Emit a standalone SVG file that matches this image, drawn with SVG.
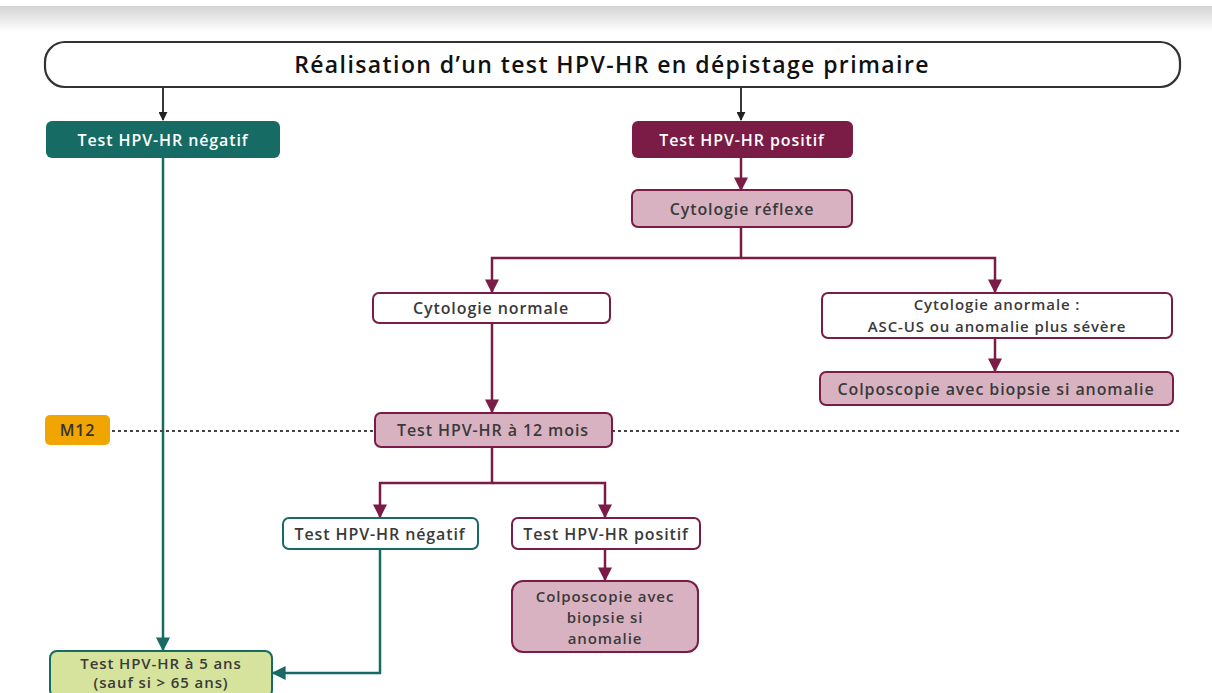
<svg xmlns="http://www.w3.org/2000/svg" width="1212" height="693" viewBox="0 0 1212 693">
<defs>
<linearGradient id="band" x1="0" y1="0" x2="0" y2="1">
<stop offset="0" stop-color="#d4d4d4"/>
<stop offset="1" stop-color="#ffffff"/>
</linearGradient>
<marker id="ab" viewBox="0 0 10 10" refX="9" refY="5" markerWidth="9" markerHeight="9" orient="auto" markerUnits="userSpaceOnUse"><path d="M0,0 L10,5 L0,10 z" fill="#222"/></marker>
<marker id="am" viewBox="0 0 10 10" refX="9" refY="5" markerWidth="14" markerHeight="14" orient="auto" markerUnits="userSpaceOnUse"><path d="M0,0 L10,5 L0,10 z" fill="#7a1c46"/></marker>
<marker id="at" viewBox="0 0 10 10" refX="9" refY="5" markerWidth="14" markerHeight="14" orient="auto" markerUnits="userSpaceOnUse"><path d="M0,0 L10,5 L0,10 z" fill="#166b64"/></marker>
<style>
text{font-family:"Open Sans",Lato,"Liberation Sans",sans-serif;font-weight:600;text-anchor:middle;dominant-baseline:central}
.lbl{font-size:16px;letter-spacing:0.9px;fill:#3a3a3a}
.sm{font-size:15px}
.w{fill:#fff}
.cm{stroke:#7a1c46;stroke-width:2.5;fill:none}
.ct{stroke:#166b64;stroke-width:2.5;fill:none}
.cb{stroke:#222;stroke-width:1.8;fill:none}
.pink{fill:#d9b2c1;stroke:#7a1c46;stroke-width:2}
.wm{fill:#fff;stroke:#7a1c46;stroke-width:2}
.wt{fill:#fff;stroke:#166b64;stroke-width:2}
</style>
</defs>
<rect x="0" y="0" width="1212" height="693" fill="#fff"/>
<rect x="0" y="6" width="1212" height="26" fill="url(#band)"/>

<g id="connectors">
<line class="cb" x1="163" y1="88" x2="163" y2="120" marker-end="url(#ab)"/>
<line class="cb" x1="741" y1="88" x2="741" y2="120" marker-end="url(#ab)"/>
<line class="cm" x1="741" y1="158" x2="741" y2="190" marker-end="url(#am)"/>
<polyline class="cm" points="741,227 741,258 492,258 492,292" marker-end="url(#am)"/>
<polyline class="cm" points="741,258 995,258 995,292" marker-end="url(#am)"/>
<line class="cm" x1="995" y1="338" x2="995" y2="371" marker-end="url(#am)"/>
<line class="cm" x1="492" y1="323" x2="492" y2="412" marker-end="url(#am)"/>
<polyline class="cm" points="492,447 492,483 380,483 380,517" marker-end="url(#am)"/>
<polyline class="cm" points="492,483 605,483 605,517" marker-end="url(#am)"/>
<line class="cm" x1="605" y1="549" x2="605" y2="580" marker-end="url(#am)"/>
<line class="ct" x1="163" y1="158" x2="163" y2="650" marker-end="url(#at)"/>
<polyline class="ct" points="380,549 380,673 273,673" marker-end="url(#at)"/>
<line x1="112" y1="431" x2="375" y2="431" stroke="#444" stroke-width="2" stroke-dasharray="3,3"/>
<line x1="612" y1="431" x2="1182" y2="431" stroke="#444" stroke-width="2" stroke-dasharray="3,3"/>
</g>

<g id="title">
<rect x="45" y="42" width="1135" height="45" rx="20" fill="#fff" stroke="#333" stroke-width="2.2"/>
<text x="612" y="64" style="font-size:23px;letter-spacing:1.4px;fill:#111">Réalisation d’un test HPV-HR en dépistage primaire</text>
</g>

<g id="neg1">
<rect x="46" y="121" width="234" height="37" rx="6" fill="#166b64"/>
<text class="lbl w" x="163" y="139.5">Test HPV-HR négatif</text>
</g>

<g id="pos1">
<rect x="632" y="121" width="221" height="37" rx="6" fill="#7a1c46"/>
<text class="lbl w" x="742" y="139.5">Test HPV-HR positif</text>
</g>

<g id="cytoreflexe">
<rect class="pink" x="632" y="190" width="220" height="37" rx="6"/>
<text class="lbl" x="742" y="208.5">Cytologie réflexe</text>
</g>

<g id="cytonormale">
<rect class="wm" x="373" y="293" width="237" height="30" rx="6"/>
<text class="lbl" x="491" y="308">Cytologie normale</text>
</g>

<g id="cytoanormale">
<rect class="wm" x="822" y="293" width="350" height="45" rx="6"/>
<text class="lbl sm" x="997" y="304">Cytologie anormale :</text>
<text class="lbl sm" x="997" y="326">ASC-US ou anomalie plus sévère</text>
</g>

<g id="colpo1">
<rect class="pink" x="820" y="372" width="353" height="33" rx="6"/>
<text class="lbl" x="996" y="388.5">Colposcopie avec biopsie si anomalie</text>
</g>

<g id="m12">
<rect x="45" y="415" width="65" height="30" rx="5" fill="#f0a500"/>
<text class="lbl" x="77.5" y="430" style="fill:#333">M12</text>
</g>

<g id="test12">
<rect class="pink" x="375" y="413" width="237" height="34" rx="6"/>
<text class="lbl" x="493" y="430">Test HPV-HR à 12 mois</text>
</g>

<g id="neg2">
<rect class="wt" x="283" y="518" width="195" height="31" rx="6"/>
<text class="lbl" x="380" y="533.5">Test HPV-HR négatif</text>
</g>

<g id="pos2">
<rect class="wm" x="512" y="518" width="188" height="31" rx="6"/>
<text class="lbl" x="606" y="533.5">Test HPV-HR positif</text>
</g>

<g id="colpo2">
<rect class="pink" x="512" y="581" width="186" height="71" rx="11"/>
<text class="lbl sm" x="605" y="596">Colposcopie avec</text>
<text class="lbl sm" x="605" y="617">biopsie si</text>
<text class="lbl sm" x="605" y="638">anomalie</text>
</g>

<g id="test5">
<rect x="50" y="651" width="222" height="46" rx="7" fill="#d6e39c" stroke="#166b64" stroke-width="2"/>
<text class="lbl sm" x="161" y="663">Test HPV-HR à 5 ans</text>
<text class="lbl sm" x="161" y="682">(sauf si &gt; 65 ans)</text>
</g>
</svg>
